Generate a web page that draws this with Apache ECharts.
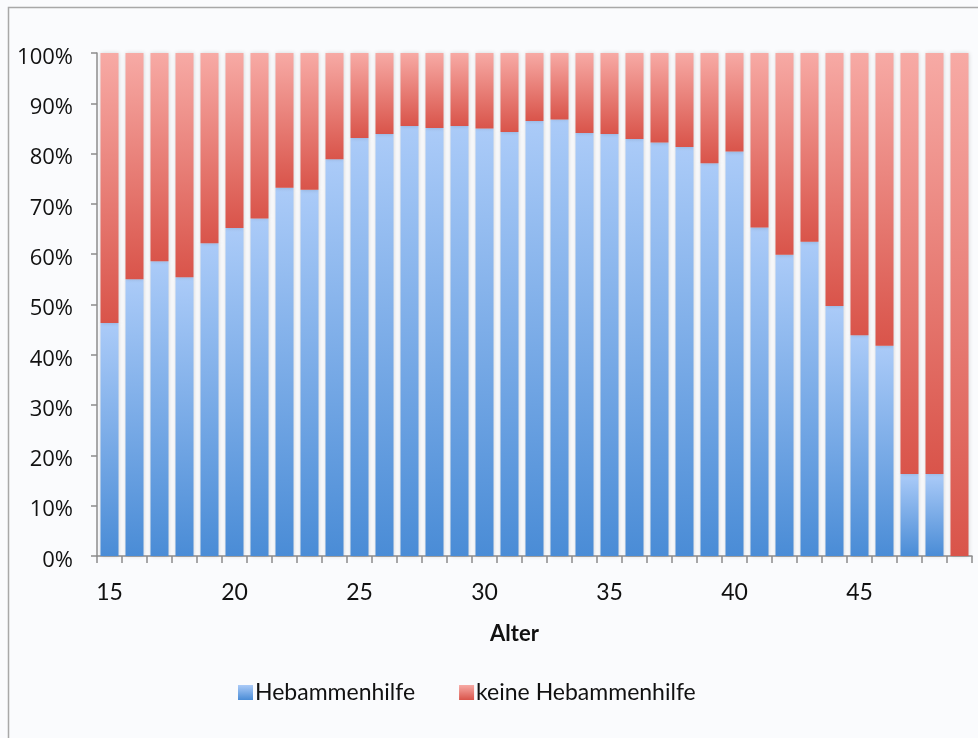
<!DOCTYPE html>
<html>
<head>
<meta charset="utf-8">
<script src="https://cdn.jsdelivr.net/npm/echarts@6/dist/echarts.min.js"></script>
<style>
  html, body { margin: 0; padding: 0; background: #ffffff; }
  #chart { width: 978px; height: 738px; }
</style>
</head>
<body>
<div id="chart"></div>
<script>
// Age groups of mothers
const ages = ['15','16','17','18','19','20','21','22','23','24','25','26','27','28','29','30','31','32',
              '33','34','35','36','37','38','39','40','41','42','43','44','45','46','47','48','49'];

// Share (%) of births with midwife assistance
const withMidwife = [46.3, 55.0, 58.6, 55.4, 62.2, 65.2, 67.1, 73.2, 72.8, 78.9, 83.1, 83.9,
                     85.5, 85.1, 85.5, 85.0, 84.3, 86.5, 86.8, 84.1, 83.9, 82.9, 82.2, 81.3,
                     78.1, 80.4, 65.3, 59.9, 62.5, 49.7, 43.9, 41.8, 16.3, 16.3, 0];

// Share (%) without midwife assistance (remainder to 100 %)
const withoutMidwife = [53.7, 45.0, 41.4, 44.6, 37.8, 34.8, 32.9, 26.8, 27.2, 21.1, 16.9, 16.1,
                        14.5, 14.9, 14.5, 15.0, 15.7, 13.5, 13.2, 15.9, 16.1, 17.1, 17.8, 18.7,
                        21.9, 19.6, 34.7, 40.1, 37.5, 50.3, 56.1, 58.2, 83.7, 83.7, 100];

const yTicks = [0, 10, 20, 30, 40, 50, 60, 70, 80, 90, 100];

const seriesNames = ['Hebammenhilfe', 'keine Hebammenhilfe'];

function grad(top, bottom) {
  return new echarts.graphic.LinearGradient(0, 0, 0, 1, [
    { offset: 0, color: top },
    { offset: 1, color: bottom }
  ]);
}

const chart = echarts.init(document.getElementById('chart'), null, { renderer: 'canvas' });

const barStyle = {
  shadowColor: 'rgba(0,0,0,0.16)',
  shadowBlur: 4
};

chart.setOption({
  backgroundColor: '#fafbfd',
  animation: false,
  graphic: [{
    type: 'rect',
    left: 6, top: 5,
    shape: { width: 990, height: 760 },
    style: { fill: 'none', stroke: '#a8a8a8', lineWidth: 1.5 },
    silent: true, z: -1
  }],
  grid: { left: 97, right: 6, top: 53, bottom: 182, containLabel: false },
  legend: {
    left: 233,
    top: 676,
    itemWidth: 15,
    itemHeight: 15,
    itemGap: 44,
    icon: 'rect',
    textStyle: { fontFamily: 'Lato', fontSize: 23, color: '#111', padding: [0, 0, 0, -3] },
    data: seriesNames
  },
  xAxis: {
    type: 'category',
    data: ages,
    boundaryGap: true,
    name: 'Alter',
    nameLocation: 'middle',
    nameGap: 67,
    nameTextStyle: { fontFamily: 'Lato', fontWeight: 'bold', fontSize: 22, color: '#111', padding: [0, 40, 0, 0] },
    axisLine: { lineStyle: { color: '#8c8c8c', width: 1.5 } },
    axisTick: { show: true, alignWithLabel: false, interval: 0, length: 7, lineStyle: { color: '#8c8c8c', width: 1.5 } },
    axisLabel: {
      interval: 4,
      margin: 25,
      fontFamily: 'Lato',
      fontSize: 23,
      color: '#111'
    },
    splitLine: { show: false }
  },
  yAxis: {
    type: 'value',
    min: 0,
    max: 100,
    interval: 10,
    axisLine: { show: true, lineStyle: { color: '#8c8c8c', width: 1.5 } },
    axisTick: { show: true, length: 6, lineStyle: { color: '#8c8c8c', width: 1.5 } },
    axisLabel: {
      margin: 24,
      fontFamily: 'Open Sans',
      fontSize: 22,
      color: '#111',
      verticalAlign: 'top',
      lineHeight: 9,
      formatter: v => (yTicks.includes(v) ? v + '%' : '')
    },
    splitLine: { show: false }
  },
  series: [
    {
      name: seriesNames[0],
      type: 'bar',
      stack: 'share',
      barWidth: 18,
      data: withMidwife,
      itemStyle: Object.assign({ color: grad('#abcbf8', '#4a8cd6') }, barStyle)
    },
    {
      name: seriesNames[1],
      type: 'bar',
      stack: 'share',
      barWidth: 18,
      data: withoutMidwife,
      itemStyle: Object.assign({ color: grad('#f7aaa5', '#d9544a') }, barStyle)
    }
  ]
});
</script>
</body>
</html>
